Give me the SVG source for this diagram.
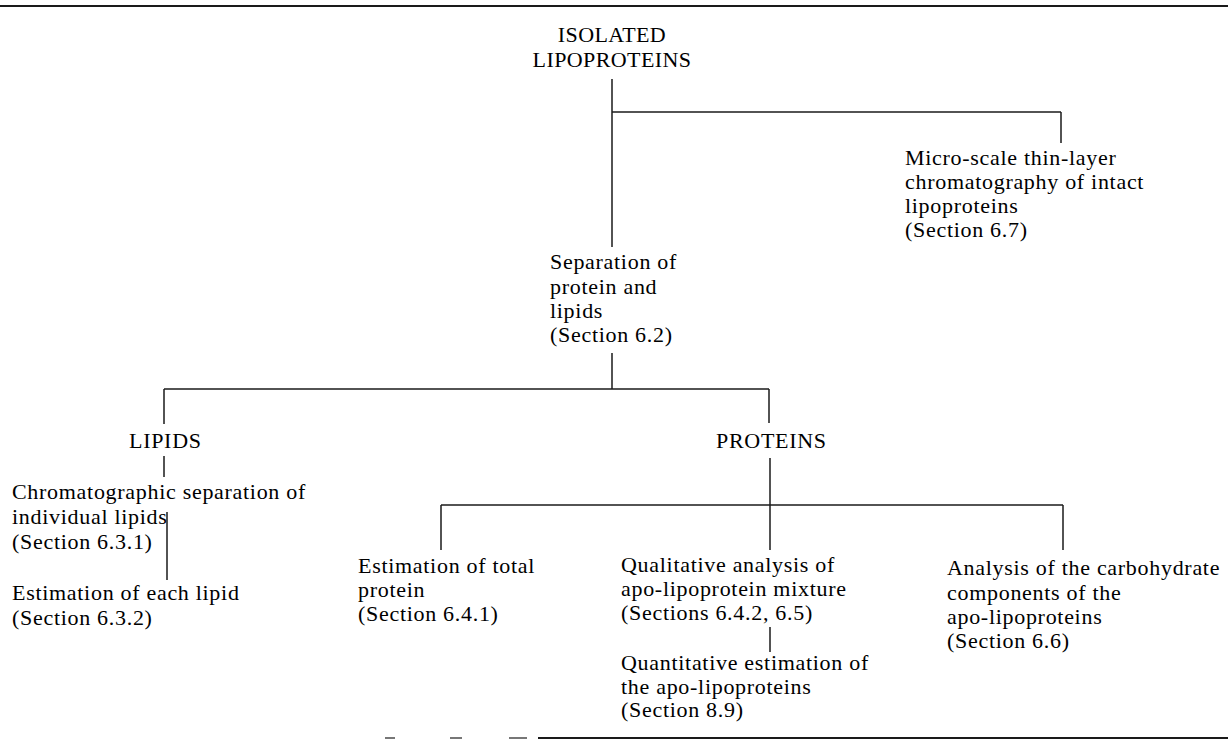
<svg xmlns="http://www.w3.org/2000/svg" width="1228" height="743" viewBox="0 0 1228 743">
  <style>
    .bg { fill: #ffffff; }
    .rule { stroke: #1a1a1a; stroke-width: 2; fill: none; }
    .rule .faint { stroke: #777777; }
    .c line { stroke: #1a1a1a; stroke-width: 1.5; fill: none; }
    text { font-family: "Liberation Serif", "Times New Roman", serif; font-size: 22px; fill: #000000; letter-spacing: 0.7px; }
    .cap { letter-spacing: 0.4px; text-anchor: middle; }
  </style>
  <rect class="bg" x="0" y="0" width="1228" height="743"/>

  <!-- page rules -->
  <line class="rule" x1="0" y1="6" x2="1228" y2="6"/>
  <g id="bottom-rule" class="rule">
    <line class="faint" x1="385" y1="738" x2="395" y2="738"/>
    <line class="faint" x1="450" y1="738" x2="462" y2="738"/>
    <line class="faint" x1="509" y1="738" x2="527" y2="738"/>
    <line x1="538" y1="738" x2="1228" y2="738"/>
  </g>

  <!-- connectors -->
  <g id="connectors" class="c">
    <line x1="612" y1="79" x2="612" y2="247"/>
    <line x1="612" y1="112" x2="1061" y2="112"/>
    <line x1="1061" y1="112" x2="1061" y2="143"/>
    <line x1="612" y1="353" x2="612" y2="389"/>
    <line x1="164" y1="389" x2="769" y2="389"/>
    <line x1="164" y1="389" x2="164" y2="424"/>
    <line x1="769" y1="389" x2="769" y2="423"/>
    <line x1="164" y1="456" x2="164" y2="477"/>
    <line x1="167" y1="512" x2="167" y2="580"/>
    <line x1="770" y1="458" x2="770" y2="550"/>
    <line x1="441" y1="505" x2="1063" y2="505"/>
    <line x1="441" y1="505" x2="441" y2="550"/>
    <line x1="1063" y1="505" x2="1063" y2="550"/>
    <line x1="770" y1="627" x2="770" y2="652"/>
  </g>

  <g id="isolated-lipoproteins">
    <text class="cap" x="612" y="42">ISOLATED</text>
    <text class="cap" x="612" y="67">LIPOPROTEINS</text>
  </g>

  <g id="micro-tlc">
    <text x="905" y="165">Micro-scale thin-layer</text>
    <text x="905" y="189">chromatography of intact</text>
    <text x="905" y="213">lipoproteins</text>
    <text x="905" y="237">(Section 6.7)</text>
  </g>

  <g id="separation">
    <text x="550" y="269">Separation of</text>
    <text x="550" y="293.5">protein and</text>
    <text x="550" y="318">lipids</text>
    <text x="550" y="342">(Section 6.2)</text>
  </g>

  <g id="lipids">
    <text x="129" y="448">LIPIDS</text>
  </g>

  <g id="proteins">
    <text x="716" y="448">PROTEINS</text>
  </g>

  <g id="lipid-chromatography">
    <text x="12" y="499">Chromatographic separation of</text>
    <text x="12" y="524">individual lipids</text>
    <text x="12" y="549">(Section 6.3.1)</text>
  </g>

  <g id="lipid-estimation">
    <text x="12" y="600">Estimation of each lipid</text>
    <text x="12" y="625">(Section 6.3.2)</text>
  </g>

  <g id="total-protein">
    <text x="358" y="573">Estimation of total</text>
    <text x="358" y="597">protein</text>
    <text x="358" y="621">(Section 6.4.1)</text>
  </g>

  <g id="qualitative">
    <text x="621" y="572">Qualitative analysis of</text>
    <text x="621" y="596">apo-lipoprotein mixture</text>
    <text x="621" y="620">(Sections 6.4.2, 6.5)</text>
  </g>

  <g id="carbohydrate">
    <text x="947" y="575">Analysis of the carbohydrate</text>
    <text x="947" y="600">components of the</text>
    <text x="947" y="624">apo-lipoproteins</text>
    <text x="947" y="648">(Section 6.6)</text>
  </g>

  <g id="quantitative">
    <text x="621" y="670">Quantitative estimation of</text>
    <text x="621" y="694">the apo-lipoproteins</text>
    <text x="621" y="717">(Section 8.9)</text>
  </g>
</svg>
